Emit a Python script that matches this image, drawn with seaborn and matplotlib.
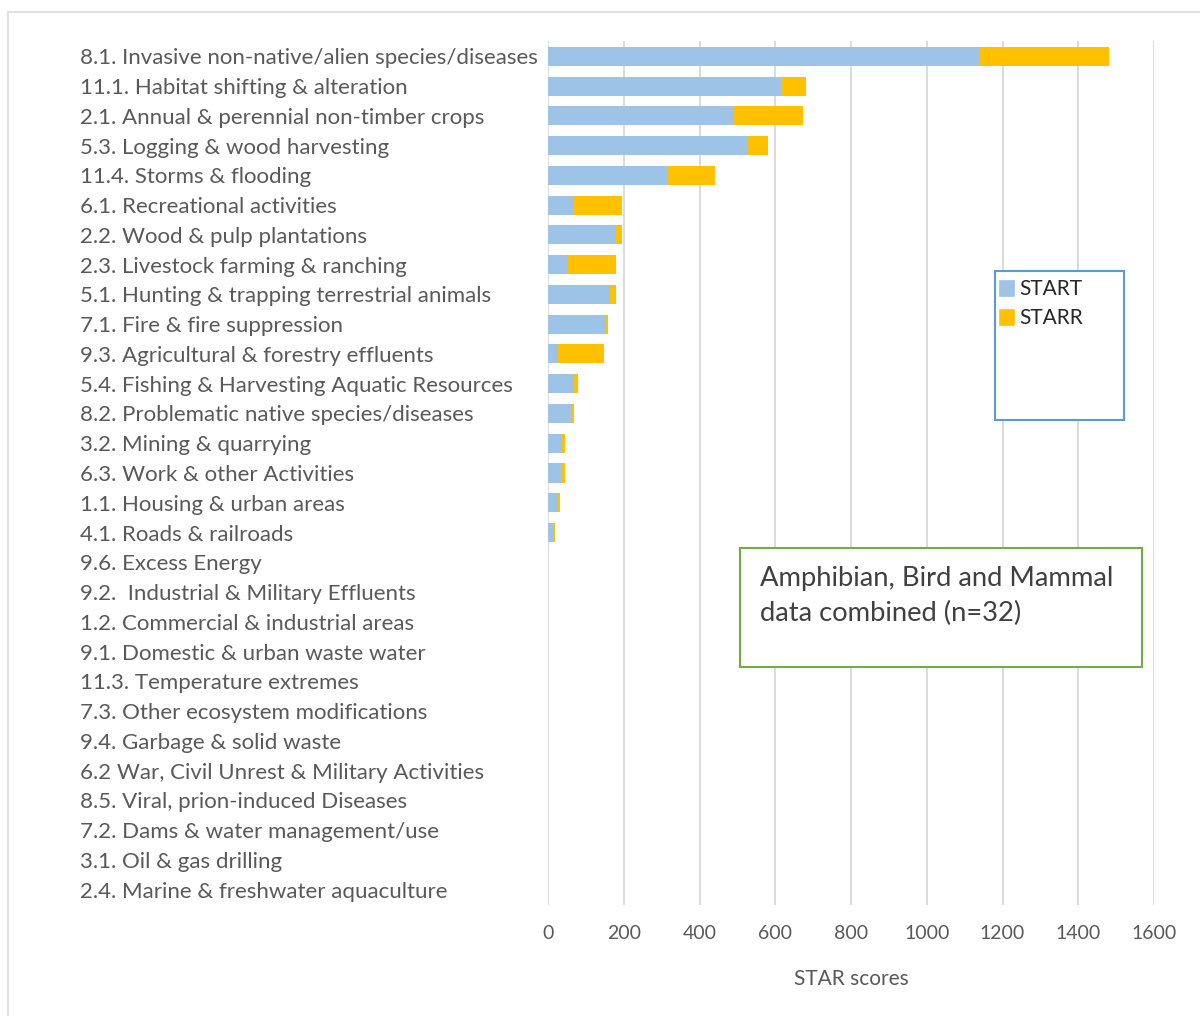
import numpy as np
import pandas as pd
import seaborn as sb
from matplotlib import pyplot as plt
from matplotlib.patches import Rectangle, Patch

threats = [
    "8.1. Invasive non-native/alien species/diseases",
    "11.1. Habitat shifting & alteration",
    "2.1. Annual & perennial non-timber crops",
    "5.3. Logging & wood harvesting",
    "11.4. Storms & flooding",
    "6.1. Recreational activities",
    "2.2. Wood & pulp plantations",
    "2.3. Livestock farming & ranching",
    "5.1. Hunting & trapping terrestrial animals",
    "7.1. Fire & fire suppression",
    "9.3. Agricultural & forestry effluents",
    "5.4. Fishing & Harvesting Aquatic Resources",
    "8.2. Problematic native species/diseases",
    "3.2. Mining & quarrying",
    "6.3. Work & other Activities",
    "1.1. Housing & urban areas",
    "4.1. Roads & railroads",
    "9.6. Excess Energy",
    "9.2.  Industrial & Military Effluents",
    "1.2. Commercial & industrial areas",
    "9.1. Domestic & urban waste water",
    "11.3. Temperature extremes",
    "7.3. Other ecosystem modifications",
    "9.4. Garbage & solid waste",
    "6.2 War, Civil Unrest & Military Activities",
    "8.5. Viral, prion-induced Diseases",
    "7.2. Dams & water management/use",
    "3.1. Oil & gas drilling",
    "2.4. Marine & freshwater aquaculture",
]

start = [1140, 615, 492, 526, 314, 68, 180, 54, 164, 154, 26, 68, 61, 37, 37, 26, 16,
         0, 0, 0, 0, 0, 0, 0, 0, 0, 0, 0, 0]
starr = [341, 67, 182, 55, 127, 127, 15, 125, 15, 4, 122, 10, 7, 8, 8, 6, 3,
         0, 0, 0, 0, 0, 0, 0, 0, 0, 0, 0, 0]

xticks = [0, 200, 400, 600, 800, 1000, 1200, 1400, 1600]

df = pd.DataFrame({"threat": threats, "START": start, "STARR": starr})
df["total"] = df["START"] + df["STARR"]

blue = "#9dc3e6"
gold = "#ffc000"
grey_txt = "#595959"

sb.set_style("white")
plt.rcParams["font.family"] = ["Lato", "DejaVu Sans"]

W, H = 1200, 1016
fig = plt.figure(figsize=(W / 100, H / 100), dpi=100)
ax = fig.add_axes([548 / W, 1 - 904.5 / H, (1154 - 548) / W, (904.5 - 41.5) / H])

# stacked look: total in gold, START drawn on top in blue
sb.barplot(data=df, x="total", y="threat", color=gold, width=0.64, ax=ax,
           saturation=1, edgecolor="none")
sb.barplot(data=df, x="START", y="threat", color=blue, width=0.64, ax=ax,
           saturation=1, edgecolor="none")

ax.set_xlim(0, 1600)
ax.set_xticks(xticks)
ax.set_xticklabels([str(t) for t in xticks], fontsize=14, color=grey_txt)
ax.xaxis.grid(True, color="#d9d9d9", linewidth=1.3)
ax.set_axisbelow(True)
for s in ax.spines.values():
    s.set_visible(False)
ax.tick_params(axis="x", length=0, pad=14.5)
ax.tick_params(axis="y", length=0, pad=468 * 0.72)
for lab in ax.get_yticklabels():
    lab.set_horizontalalignment("left")
    lab.set_fontsize(16)
    lab.set_color(grey_txt)
ax.set_ylabel("")
ax.set_xlabel("STAR scores", fontsize=15, color=grey_txt, labelpad=20)

# legend box
fig.patches.append(Rectangle((995 / W, 1 - 420 / H), 129 / W, 149 / H,
                             transform=fig.transFigure, fill=True, facecolor="white",
                             edgecolor="#5b9bd5", linewidth=1.5, zorder=5))
handles = [Patch(facecolor=blue, label="START"), Patch(facecolor=gold, label="STARR")]
fig.legend(handles=handles, loc="upper left", bbox_to_anchor=(983 / W, 1 - 264 / H),
           frameon=False, fontsize=15, handlelength=0.85, handleheight=0.95,
           handletextpad=0.2, labelspacing=0.45, borderpad=0.2)

# annotation box
fig.patches.append(Rectangle((740 / W, 1 - 667 / H), 402 / W, 119 / H,
                             transform=fig.transFigure, fill=True, facecolor="white",
                             edgecolor="#70ad47", linewidth=1.5, zorder=5))
fig.text(760 / W, 1 - 566 / H, "Amphibian, Bird and Mammal\ndata combined (n=32)",
         fontsize=19.7, color="#404040", va="top", ha="left", linespacing=1.5, zorder=6)

# outer chart border
fig.patches.append(Rectangle((8 / W, -0.01), 1.02, 1 - 12 / H + 0.01,
                             transform=fig.transFigure, fill=False,
                             edgecolor="#d9d9d9", linewidth=1.2))

fig.savefig("out.png", dpi=100)
